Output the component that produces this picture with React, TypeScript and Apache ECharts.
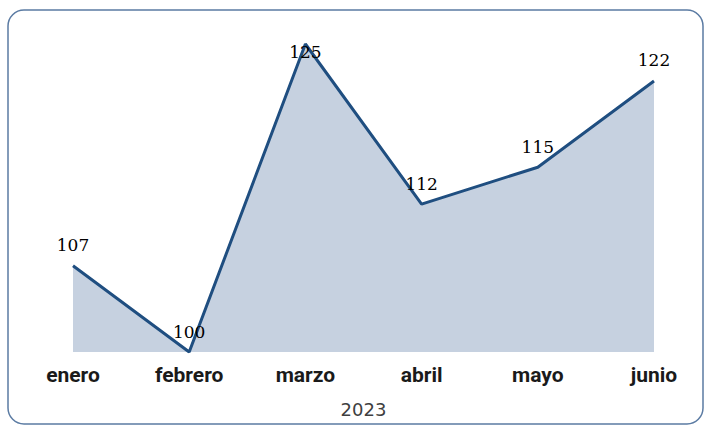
import React, { useEffect, useRef } from "react";
import * as echarts from "echarts";

const categories = ["enero", "febrero", "marzo", "abril", "mayo", "junio"];
const values = [107, 100, 125, 112, 115, 122];
const axisTitle = "2023";

export default function App() {
  const ref = useRef<HTMLDivElement>(null);
  useEffect(() => {
    if (!ref.current) return;
    const chart = echarts.init(ref.current, null, { renderer: "svg" });
    const maxIdx = values.indexOf(Math.max(...values));
    chart.setOption({
      animation: false,
      backgroundColor: "#ffffff",
      grid: { left: 73, right: 57, top: 44, bottom: 77 },
      graphic: [
        {
          type: "rect",
          shape: { x: 8, y: 10, width: 695, height: 414, r: 16 },
          style: { fill: "none", stroke: "#5b7ba3", lineWidth: 1.5 },
          silent: true,
        },
      ],
      xAxis: {
        type: "category",
        data: categories,
        boundaryGap: false,
        axisLine: { show: false },
        axisTick: { show: false },
        axisLabel: {
          margin: 12,
          color: "#1a1a1a",
          fontFamily: "Roboto",
          fontWeight: "bold",
          fontSize: 21,
          interval: 0,
        },
        name: axisTitle,
        nameLocation: "middle",
        nameGap: 48,
        nameTextStyle: { color: "#404040", fontFamily: "DejaVu Sans", fontSize: 18 },
      },
      yAxis: {
        type: "value",
        min: 100,
        max: 125,
        show: false,
        splitLine: { show: false },
      },
      series: [
        {
          type: "line",
          data: values.map((v, i) =>
            i === maxIdx ? { value: v, label: { position: "bottom", distance: -1 } } : v
          ),
          symbol: "circle",
          symbolSize: 0,
          showSymbol: true,
          lineStyle: { color: "#1f4e80", width: 3 },
          itemStyle: { color: "#1f4e80" },
          areaStyle: { color: "#c6d1e0", opacity: 1 },
          label: {
            show: true,
            position: "top",
            distance: 12,
            color: "#000000",
            fontFamily: "DejaVu Serif",
            fontSize: 17,
          },
        },
      ],
    });
    return () => chart.dispose();
  }, []);
  return (
    <div
      ref={ref}
      style={{ position: "fixed", left: 0, top: 0, width: 711, height: 429 }}
    />
  );
}
